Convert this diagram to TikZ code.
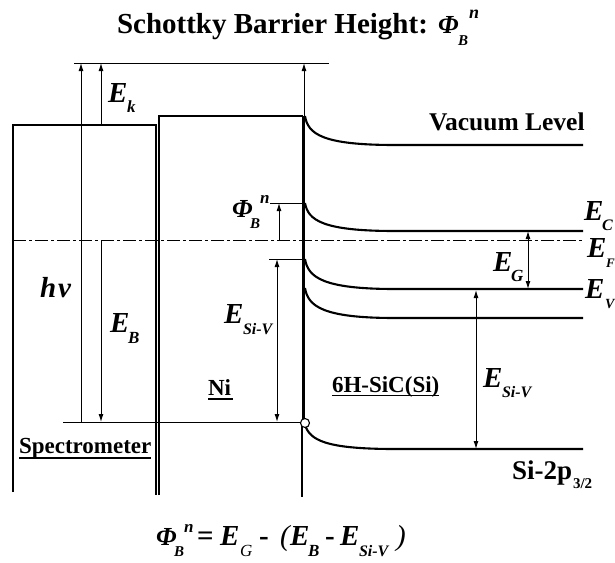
\documentclass[tikz,border=0pt]{standalone}
\usepackage{fontspec}
\setmainfont{Liberation Serif}
\usetikzlibrary{arrows.meta}
\newcommand{\fs}[1]{\fontsize{#1}{#1}\selectfont}
\newcommand{\BI}{\bfseries\itshape}
% name, x, y(baseline), font size, text
\newcommand{\lbl}[5]{\node[txt,font=\fs{#4}] (#1) at (#2,#3) {#5};}
\tikzset{
  txt/.style={anchor=base west,inner sep=0pt,outer sep=0pt,text=black},
  heavy/.style={line width=2.6pt,black},
  band/.style={line width=2.1pt,black},
  thin line/.style={line width=1pt,black},
  tip/.style={-{Latex[length=8pt,width=5pt]},line width=1pt,black},
  tips/.style={{Latex[length=8pt,width=5pt]}-{Latex[length=8pt,width=5pt]},line width=1pt,black},
  fermi/.style={line width=1pt,black,dash pattern=on 13pt off 3pt on 3pt off 3pt},
  ul/.style={line width=1.8pt,black}
}
\begin{document}
\begin{tikzpicture}[x=1pt,y=-1pt]
\useasboundingbox (0,0) rectangle (615,562);
% key levels
\coordinate (topL) at (74,63); \coordinate (topR) at (329,63);
\coordinate (hvB) at (81,422); \coordinate (hvT) at (81,63);
\coordinate (ekB) at (101,125); \coordinate (ekT) at (101,63);
\coordinate (niT) at (304,116); \coordinate (niA) at (304,63);
\coordinate (coreL) at (63,422); \coordinate (coreR) at (301,422);
\coordinate (fL) at (13,240); \coordinate (fR) at (583,240);
\coordinate (ebT) at (101,240); \coordinate (ebB) at (101,422);
% reference lines
\draw[thin line] (topL) -- (topR);
\draw[thin line] (coreL) -- (coreR);
\draw[fermi] (fL) -- (fR);
% spectrometer and metal
\draw[heavy] (13,492) -- (13,125) -- (156,125) -- (156,495);
\draw[heavy] (159,495) -- (159,116) -- (303,116);
\draw[line width=3pt] (303.2,116) -- (303.2,422);
\draw[heavy] (302,420) -- (302,497);
% band curves
\coordinate (vacE) at (583,145);
\coordinate (ecE) at (583,231);
\coordinate (evE) at (583,289);
\coordinate (ev2E) at (583,318);
\coordinate (siE) at (583,449);
\draw[band] (305,116) .. controls (308,134) and (322,145) .. (395,145) -- (vacE);
\draw[band] (305,203) .. controls (308,220) and (322,231) .. (395,231) -- (ecE);
\draw[band] (305,259) .. controls (308,277) and (322,289) .. (395,289) -- (evE);
\draw[band] (305,288) .. controls (308,306) and (322,318) .. (395,318) -- (ev2E);
\draw[band] (305,425) .. controls (310,440) and (325,449) .. (395,449) -- (siE);
\node[circle,draw=black,line width=1.1pt,fill=white,minimum size=9pt,inner sep=0pt] (joint) at (305,423) {};
% arrows
\draw[tip] (hvB) -- (hvT);
\draw[tip] (ekB) -- (ekT);
\draw[tip] (niT) -- (niA);
\draw[tip] (ebT) -- (ebB);
\coordinate (phiT) at (279,203); \coordinate (phiB) at (279,240);
\draw[thin line] (270,203) -- (303,203);
\draw[tip] (phiB) -- (phiT);
\coordinate (svT) at (277,259); \coordinate (svB) at (277,422);
\draw[thin line] (269,259) -- (303,259);
\draw[tips] (svT) -- (svB);
\coordinate (egT) at (528,231); \coordinate (egB) at (528,289);
\draw[tips] (egT) -- (egB);
\coordinate (sv2T) at (476,290); \coordinate (sv2B) at (476,449);
\draw[tips] (sv2T) -- (sv2B);
% title
\lbl{title}{117}{33}{29}{\bfseries Schottky Barrier Height:}
\lbl{tPhi}{438}{33}{26}{\BI Φ}
\lbl{tB}{458}{45}{15}{\BI B}
\lbl{tn}{469}{18}{18}{\BI n}
% labels
\lbl{ek}{108}{102}{29}{\BI E}
\lbl{eks}{127}{112}{17}{\BI k}
\lbl{phi}{232}{217}{26}{\BI Φ}
\lbl{phin}{260}{203}{17}{\BI n}
\lbl{phib}{250}{228}{15}{\BI B}
\lbl{h}{40}{297}{29}{\BI h}
\lbl{nu}{58}{297}{29}{\BI ν}
\lbl{eb}{110}{332}{29}{\BI E}
\lbl{ebs}{128}{343}{17}{\BI B}
\lbl{esv}{224}{323}{29}{\BI E}
\lbl{esvs}{243}{334}{16}{\BI Si-V}
\lbl{ni}{208}{395}{23}{\bfseries Ni}
\draw[ul] (208,399) -- (233,399);
\lbl{spec}{19}{453}{23}{\bfseries Spectrometer}
\draw[ul] (19,458) -- (151,458);
\lbl{sic}{332}{392}{23}{\bfseries 6H-SiC(Si)}
\draw[ul] (332,395.5) -- (439,395.5);
\lbl{esr}{483}{387}{29}{\BI E}
\lbl{esrs}{502}{397}{16}{\BI Si-V}
\lbl{si}{512}{479}{27}{\bfseries Si-2p}
\lbl{sis}{573}{488}{15}{\bfseries 3/2}
\lbl{vac}{429}{130}{25.5}{\bfseries Vacuum Level}
\lbl{ec}{584}{220}{29}{\BI E}
\lbl{ecs}{602}{230}{16}{\BI C}
\lbl{ef}{587}{257}{29}{\BI E}
\lbl{efs}{606}{267}{13}{\BI F}
\lbl{eg}{493}{271}{29}{\BI E}
\lbl{egs}{511}{281}{17}{\BI G}
\lbl{ev}{585}{298}{29}{\BI E}
\lbl{evs}{605}{308}{14}{\BI V}
% formula
\lbl{fphi}{156}{545}{26}{\BI Φ}
\lbl{fb}{174}{556}{15}{\BI B}
\lbl{fn}{184}{532}{17}{\BI n}
\lbl{feq}{197}{545}{29}{\bfseries =}
\lbl{fe}{220}{545}{29}{\BI E}
\lbl{fg}{240}{556}{17}{\itshape G}
\lbl{fm}{259}{545}{29}{\bfseries -}
\lbl{fp}{280}{545}{29}{\itshape (}
\lbl{fe2}{290}{545}{29}{\BI E}
\lbl{fb2}{308}{556}{17}{\BI B}
\lbl{fm2}{325}{545}{29}{\bfseries -}
\lbl{fe3}{340}{545}{29}{\BI E}
\lbl{fs3}{359}{556}{16}{\BI Si-V}
\lbl{fq}{396}{545}{29}{\itshape )}
\end{tikzpicture}
\end{document}
